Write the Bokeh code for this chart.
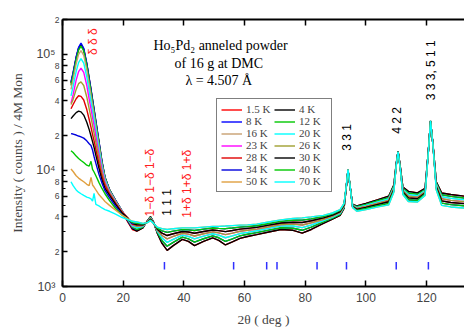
import math
from bokeh.plotting import figure
from bokeh.models import Range1d, LinearAxis, LogAxis, FixedTicker, Label, Legend, LegendItem
from bokeh.embed import file_html
from bokeh.resources import INLINE

# ---------------- data ----------------
temps = ["1.5 K", "4 K", "8 K", "12 K", "16 K", "20 K", "23 K",
         "26 K", "28 K", "30 K", "34 K", "40 K", "50 K", "70 K"]
colors = ["#ff0000", "#000000", "#0000ff", "#00c800", "#c8a070", "#00ffff", "#ff00ff",
          "#a0a030", "#e00000", "#000000", "#0000dd", "#00c800", "#e0a040", "#00ffff"]

# low-angle part (2theta, deg)
x_low = [2.8, 3.5, 4.5, 5.3, 6.1, 7.0, 8.0, 8.8, 9.4, 9.9, 10.4, 11.0, 12.0, 13.0,
         14.0, 15.5, 17.5, 19.5, 21.5, 23.0]

low_1p5 = [56000, 68000, 93000, 112000, 122000, 110000, 82000, 61000, 49000, 40000, 33000, 26000, 17500, 11800, 8700, 6800, 5500, 4500, 3600, 3100]
low_4 = [57000, 69000, 94000, 113000, 123000, 111000, 83000, 61500, 49500, 40500, 33500, 26300, 17700, 11900, 8700, 6800, 5500, 4500, 3650, 3150]
low_8 = [58000, 70000, 95000, 115000, 125000, 113000, 84000, 62500, 50000, 41000, 34000, 26700, 18000, 12100, 8800, 6850, 5550, 4550, 3700, 3200]
low_12 = [54000, 66000, 90000, 109000, 118000, 107000, 80000, 59500, 47500, 39000, 32500, 25500, 17300, 11700, 8700, 6800, 5500, 4550, 3750, 3250]
low_16 = [50000, 61000, 83000, 100000, 108000, 98000, 74000, 55000, 44000, 36500, 30500, 24000, 16500, 11300, 8500, 6700, 5450, 4500, 3800, 3300]
low_20 = [44000, 53000, 71000, 85000, 92000, 84000, 64000, 48000, 39000, 32500, 27500, 22000, 15300, 10800, 8300, 6600, 5400, 4500, 3850, 3350]
low_23 = [38000, 45000, 60000, 71000, 76000, 70000, 54000, 41000, 34000, 28500, 24500, 19800, 14000, 10200, 8000, 6500, 5350, 4500, 3900, 3400]
low_26 = [37000, 41000, 50000, 56000, 58000, 54000, 43000, 34000, 28500, 24500, 21000, 17500, 12800, 9600, 7700, 6400, 5300, 4450, 3900, 3450]
low_28 = [34000, 37000, 41500, 44000, 43500, 40500, 33500, 27500, 23500, 20500, 18000, 15200, 11500, 8900, 7400, 6250, 5200, 4400, 3900, 3450]
low_30 = [28000, 29500, 31500, 32500, 32000, 30000, 26000, 22500, 19800, 17700, 15800, 13500, 10500, 8300, 7000, 6100, 5100, 4350, 3900, 3500]
low_34 = [20800, 20600, 20200, 19800, 19500, 19000, 18000, 17000, 16400, 15000, 13200, 11500, 9300, 7800, 6700, 5800, 4900, 4200, 3800, 3500]
low_40 = [14800, 14300, 13300, 12700, 12200, 11700, 11100, 10900, 12000, 10200, 9700, 9000, 7900, 7000, 6300, 5500, 4700, 4150, 3800, 3550]
low_50 = [10300, 9800, 9000, 8600, 8300, 8000, 7600, 7400, 8700, 7500, 7200, 6800, 6200, 5800, 5400, 5000, 4550, 4150, 3850, 3650]
low_70 = [8000, 7400, 6800, 6500, 6300, 6100, 5900, 5800, 5700, 5450, 6350, 5100, 4950, 4750, 4600, 4450, 4200, 3950, 3770, 3650]

# high-angle part (2theta, deg)
x_high = [24.5, 26.5, 28, 29, 30, 31.2, 32.8, 34.5, 36.5, 39.5, 41.5, 43.5, 46.5, 49.5,
          51.5, 53.7, 56, 58.5, 61, 64, 68, 72, 76, 79, 82, 86, 89, 91.5, 92.8, 93.5,
          94.1, 94.8, 95.6, 97, 100, 104, 107.5, 109.2, 110, 110.6, 111.3, 112.2, 114,
          117, 119.5, 120.6, 121.3, 122.1, 123.2, 125, 128, 132.5]

hi_1 = [3000, 3200, 3700, 4000, 3600, 2900, 2350, 2050, 2250, 2550, 2450, 2250, 2450, 2620, 2500, 2280, 2420, 2600, 2700, 2800, 2950, 3100, 3050, 2880, 3100, 3500, 3800, 4100, 4700, 7000, 10000, 7200, 5100, 4950, 5200, 5600, 6000, 7500, 11500, 14700, 11000, 7200, 6600, 6400, 7000, 15000, 26400, 17000, 8000, 6400, 6200, 6000]
hi_2 = [3100, 3250, 3675, 3950, 3580, 2960, 2480, 2225, 2400, 2660, 2575, 2410, 2580, 2730, 2630, 2450, 2575, 2730, 2820, 2910, 3060, 3210, 3180, 3050, 3250, 3600, 3880, 4180, 4780, 7030, 10030, 7220, 5050, 4870, 5100, 5480, 5840, 7330, 11420, 14670, 10920, 7030, 6400, 6230, 6850, 14920, 26470, 16920, 7800, 6170, 5980, 5790]
hi_3 = [3200, 3300, 3650, 3900, 3570, 3020, 2620, 2400, 2550, 2770, 2700, 2570, 2720, 2850, 2770, 2630, 2730, 2860, 2930, 3020, 3170, 3320, 3320, 3220, 3390, 3700, 3970, 4270, 4870, 7070, 10070, 7230, 5000, 4780, 5000, 5350, 5680, 7170, 11330, 14630, 10830, 6870, 6200, 6050, 6700, 14830, 26530, 16830, 7600, 5930, 5750, 5580]
hi_4 = [3300, 3350, 3625, 3850, 3550, 3075, 2750, 2575, 2700, 2875, 2825, 2725, 2850, 2960, 2900, 2800, 2885, 2990, 3050, 3125, 3275, 3425, 3450, 3390, 3540, 3800, 4050, 4350, 4950, 7100, 10100, 7250, 4950, 4700, 4900, 5225, 5525, 7000, 11250, 14600, 10750, 6700, 6000, 5875, 6550, 14750, 26600, 16750, 7400, 5700, 5525, 5375]
hi_5 = [3400, 3400, 3600, 3800, 3530, 3130, 2880, 2750, 2850, 2980, 2950, 2880, 2980, 3070, 3030, 2970, 3040, 3120, 3170, 3230, 3380, 3530, 3580, 3560, 3690, 3900, 4130, 4430, 5030, 7130, 10130, 7270, 4900, 4620, 4800, 5100, 5370, 6830, 11170, 14570, 10670, 6530, 5800, 5700, 6400, 14670, 26670, 16670, 7200, 5470, 5300, 5170]
hi_6 = [3500, 3450, 3575, 3750, 3520, 3190, 3020, 2925, 3000, 3090, 3075, 3040, 3120, 3190, 3170, 3150, 3195, 3250, 3280, 3340, 3490, 3640, 3720, 3730, 3830, 4000, 4220, 4520, 5120, 7170, 10170, 7280, 4850, 4530, 4700, 4975, 5210, 6670, 11080, 14530, 10580, 6370, 5600, 5525, 6250, 14580, 26730, 16580, 7000, 5230, 5080, 4960]
hi_7 = [3600, 3500, 3550, 3700, 3500, 3250, 3150, 3100, 3150, 3200, 3200, 3200, 3250, 3300, 3300, 3320, 3350, 3380, 3400, 3450, 3600, 3750, 3850, 3900, 3980, 4100, 4300, 4600, 5200, 7200, 10200, 7300, 4800, 4450, 4600, 4850, 5050, 6500, 11000, 14500, 10500, 6200, 5400, 5350, 6100, 14500, 26800, 16500, 6800, 5000, 4850, 4750]

lows = [low_1p5, low_4, low_8, low_12, low_16, low_20, low_23,
        low_26, low_28, low_30, low_34, low_40, low_50, low_70]
highs = [hi_1, hi_1, hi_2, hi_2, hi_3, hi_3, hi_4, hi_4, hi_5, hi_5, hi_6, hi_6, hi_7, hi_7]

# nuclear Bragg positions (blue tick marks)
bragg = [33.6, 56.4, 67.3, 70.7, 83.9, 93.6, 110.0, 120.6]

x_ticks = [0, 20, 40, 60, 80, 100, 120]
y_decades = [1000, 10000, 100000]
y_dec_labels = {1000: "10³", 10000: "10⁴", 100000: "10⁵"}
y_labeled = [2000, 4000, 6000, 8000, 20000, 40000, 60000, 80000, 200000]
y_small_labels = {2000: "2", 4000: "4", 6000: "6", 8000: "8",
                  20000: "2", 40000: "4", 60000: "6", 80000: "8", 200000: "2"}
y_minor = [3000, 5000, 7000, 9000, 30000, 50000, 70000, 90000]

# annotations: (x, y, text, color)
peak_labels = [
    (10.2, 129000, "δ δ δ", "#ff2020"),
    (28.7, 8400, "1−δ  1−δ  1−δ", "#ff2020"),
    (34.6, 5300, "1 1 1", "#000000"),
    (41.2, 8200, "1+δ  1+δ  1+δ", "#ff2020"),
    (93.9, 19300, "3 3 1", "#000000"),
    (110.4, 27000, "4 2 2", "#000000"),
    (121.3, 73000, "3 3 3, 5 1 1", "#000000"),
]
title_lines = [(52.1, 120000, "Ho₅Pd₂ anneled powder"),
               (52.1, 84000, "of 16 g  at DMC"),
               (52.1, 59300, "λ  = 4.507 Å")]

# ---------------- figure ----------------
p = figure(width=464, height=331, y_axis_type="log",
           x_range=Range1d(0, 132.5), y_range=Range1d(1000, 200000),
           output_backend="svg", toolbar_location=None,
           min_border_left=62, min_border_right=0, min_border_top=19, min_border_bottom=45)
p.outline_line_color = None
p.grid.visible = False
p.background_fill_color = "white"
p.border_fill_color = "white"

renderers = []
for lo, hi, col in zip(lows, highs, colors):
    r = p.line(x_low + x_high, lo + hi, line_color=col, line_width=1.4)
    renderers.append(r)

p.segment(x0=bragg, y0=[1400] * len(bragg), x1=bragg, y1=[1630] * len(bragg),
          line_color="#3030ff", line_width=1.5)

# x axis
xa = p.xaxis[0]
xa.ticker = FixedTicker(ticks=x_ticks, minor_ticks=[])
xa.major_tick_in = 6
xa.major_tick_out = 0
xa.minor_tick_in = 0
xa.minor_tick_out = 0
xa.axis_line_width = 2
xa.major_tick_line_width = 1.5
xa.major_label_text_font = "Liberation Sans"
xa.major_label_text_font_size = "12px"
xa.major_label_standoff = 6
xa.axis_label = "2θ ( deg )"
xa.axis_label_text_font = "Liberation Serif"
xa.axis_label_text_font_size = "13.5px"
xa.axis_label_text_font_style = "normal"
xa.axis_label_standoff = 7

top = LinearAxis(ticker=FixedTicker(ticks=x_ticks, minor_ticks=[]),
                 major_label_text_font_size="0px", major_tick_in=6, major_tick_out=0,
                 minor_tick_in=0, minor_tick_out=0, axis_line_width=2,
                 major_tick_line_width=1.5, major_label_standoff=0)
p.add_layout(top, "above")

# inner y axis: line, all ticks, small labels 2,4,6,8
ya = p.yaxis[0]
ya.ticker = FixedTicker(ticks=y_decades + y_labeled, minor_ticks=y_minor)
ov = {v: "" for v in y_decades}
ov.update(y_small_labels)
ya.major_label_overrides = ov
ya.major_tick_in = 5
ya.major_tick_out = 0
ya.minor_tick_in = 3
ya.minor_tick_out = 0
ya.axis_line_width = 2
ya.major_tick_line_width = 1.5
ya.minor_tick_line_width = 1
ya.major_label_text_font = "Liberation Sans"
ya.major_label_text_font_size = "8.5px"
ya.major_label_standoff = 3

# outer y axis: decade labels and the axis title
yb = LogAxis(ticker=FixedTicker(ticks=y_decades, minor_ticks=[]),
             major_label_overrides=y_dec_labels,
             axis_line_color=None, major_tick_line_color=None, minor_tick_line_color=None,
             major_tick_in=0, major_tick_out=0, minor_tick_in=0, minor_tick_out=0,
             major_label_standoff=-4, major_label_text_font="Liberation Sans",
             major_label_text_font_size="12.5px",
             axis_label="Intensity ( counts ) / 4M Mon",
             axis_label_text_font="Liberation Serif", axis_label_text_font_size="13.5px",
             axis_label_text_font_style="normal", axis_label_standoff=8)
p.add_layout(yb, "left")

for xv, yv, t, c in peak_labels:
    p.add_layout(Label(x=xv, y=yv, text=t, angle=math.pi / 2, text_align="center",
                       text_baseline="middle", text_font="Liberation Sans",
                       text_font_size="12px", text_color=c))

for xv, yv, t in title_lines:
    p.add_layout(Label(x=xv, y=yv, text=t, text_align="center", text_baseline="middle",
                       text_font="Liberation Serif", text_font_size="14px",
                       text_color="#000000"))

# legend laid out column by column -> order so that rows read 1.5 K | 4 K, 8 K | 12 K ...
order = [0, 2, 4, 6, 8, 10, 12, 1, 3, 5, 7, 9, 11, 13]
items = [LegendItem(label=temps[i], renderers=[renderers[i]]) for i in order]
leg = Legend(items=items, ncols=2, location=(154, 94),
             label_text_font="Liberation Serif", label_text_font_size="11px",
             glyph_width=21, glyph_height=11, label_height=11, label_width=28,
             label_standoff=4, spacing=0, padding=4, margin=0, border_line_color="black",
             border_line_width=1, background_fill_color="white", background_fill_alpha=1)
p.add_layout(leg)

open("out.html", "w").write(file_html(p, INLINE))
